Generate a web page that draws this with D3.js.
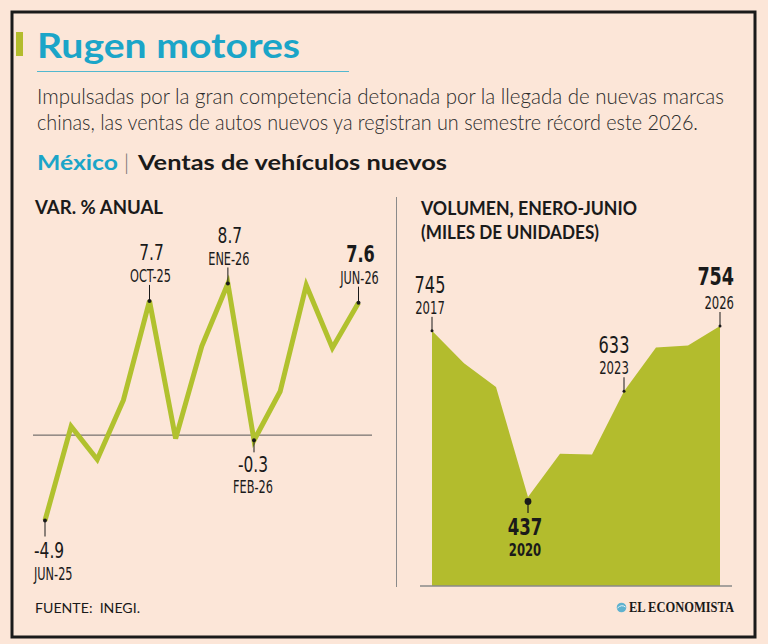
<!DOCTYPE html>
<html>
<head>
<meta charset="utf-8">
<script src="https://cdn.jsdelivr.net/npm/d3@7"></script>
<style>
html, body { margin: 0; padding: 0; background: #fce6d8; }
svg { display: block; }
text { white-space: pre; }
</style>
</head>
<body>
<svg class="chart"></svg>
<script>
// variacion % anual, ventas de vehiculos nuevos
var varMonths = ["JUN-25", "JUL-25", "AGO-25", "SEP-25", "OCT-25", "NOV-25", "DIC-25",
                 "ENE-26", "FEB-26", "MAR-26", "ABR-26", "MAY-26", "JUN-26"];
var varValues = [-4.9, 0.5, -1.4, 2.0, 7.7, -0.2, 5.1, 8.7, -0.3, 2.5, 8.6, 5.0, 7.6];
var varMarked = ["JUN-25", "OCT-25", "ENE-26", "FEB-26", "JUN-26"];

// volumen enero-junio, miles de unidades
var volYears = [2017, 2018, 2019, 2020, 2021, 2022, 2023, 2024, 2025, 2026];
var volValues = [745, 685, 641, 437, 517, 516, 633, 714, 718, 754];
var volMarked = [2017, 2020, 2023, 2026];

var NARROW = "'Liberation Sans Narrow','DejaVu Sans Condensed','Arial Narrow',sans-serif";
var SANS = "Lato,'Open Sans','Noto Sans',sans-serif";
var TEAL = "#1ba5c8", OLIVE = "#b3bc2d", LIME = "#b1c12e", INK = "#1a1a1a";

var width = 768, height = 644;

var svg = d3.select(".chart")
    .attr("width", width)
    .attr("height", height);

svg.append("rect").attr("width", width).attr("height", height).attr("fill", "#fce6d8");
svg.append("rect")
    .attr("x", 12).attr("y", 12).attr("width", 743).attr("height", 625)
    .attr("fill", "#fce6d8").attr("stroke", INK).attr("stroke-width", 3);

// squeeze text horizontally so it looks like the condensed face of the original
function fit(t, len) {
    t.attr("textLength", len).attr("lengthAdjust", "spacingAndGlyphs");
    return t;
}
function condense(t, k) {
    var w = t.node().getComputedTextLength();
    return fit(t, w * k);
}
function txt(g, x, y, str, size, weight, family, fill, anchor) {
    return g.append("text")
        .attr("x", x).attr("y", y)
        .attr("font-size", size)
        .attr("font-weight", weight)
        .attr("font-family", family)
        .attr("fill", fill || INK)
        .attr("text-anchor", anchor || "start")
        .text(str);
}

// ---- header
svg.append("rect").attr("x", 16).attr("y", 32).attr("width", 7).attr("height", 24).attr("fill", OLIVE);
fit(txt(svg, 37, 58, "Rugen motores", 34, 700, SANS, TEAL), 263);
svg.append("line").attr("x1", 37).attr("x2", 349).attr("y1", 71.5).attr("y2", 71.5)
    .attr("stroke", "#52b8cf").attr("stroke-width", 1);

fit(txt(svg, 37, 104, "Impulsadas por la gran competencia detonada por la llegada de nuevas marcas", 21, 300, SANS, "#2b2b2b"), 687);
fit(txt(svg, 37, 130, "chinas, las ventas de autos nuevos ya registran un semestre récord este 2026.", 21, 300, SANS, "#2b2b2b"), 661);

fit(txt(svg, 37, 170, "México", 21, 700, SANS, TEAL), 81);
txt(svg, 124, 170, "|", 21, 300, SANS, "#666");
fit(txt(svg, 138, 170, "Ventas de vehículos nuevos", 21, 700, SANS, INK), 309);

fit(txt(svg, 35, 214, "VAR. % ANUAL", 18, 700, SANS, INK), 128);
fit(txt(svg, 421, 215, "VOLUMEN, ENERO-JUNIO", 18, 700, SANS, INK), 216);
fit(txt(svg, 421, 239, "(MILES DE UNIDADES)", 18, 700, SANS, INK), 178);

svg.append("line").attr("x1", 396.5).attr("x2", 396.5).attr("y1", 197).attr("y2", 587)
    .attr("stroke", "#8a8a8a").attr("stroke-width", 1);

// ---- left: variacion anual
var xL = d3.scalePoint().domain(varMonths).range([45, 358.5]);
var yL = d3.scaleLinear().domain(d3.extent(varValues)).range([520.5, 283.5]);

var left = svg.append("g");
left.append("line")
    .attr("x1", 33).attr("x2", 372).attr("y1", yL(0)).attr("y2", yL(0))
    .attr("stroke", "#555").attr("stroke-width", 1);

var lineL = d3.line()
    .x(function(d, i) { return xL(varMonths[i]); })
    .y(function(d) { return yL(d); });

left.append("path")
    .datum(varValues)
    .attr("d", lineL)
    .attr("fill", "none")
    .attr("stroke", LIME)
    .attr("stroke-width", 5)
    .attr("stroke-linejoin", "miter");

varMarked.forEach(function(m) {
    var i = varMonths.indexOf(m), v = varValues[i];
    var x = xL(m), y = yL(v);
    var last = i === varMonths.length - 1, first = i === 0;
    var vs = v.toFixed(1);
    if (v < 0) {
        var ax = first ? x - 11 : x - 1, anc = first ? "start" : "middle";
        left.append("line").attr("x1", x).attr("x2", x).attr("y1", y).attr("y2", y + (first ? 16 : 12))
            .attr("stroke", INK).attr("stroke-width", 1);
        condense(txt(left, ax, y + (first ? 37 : 32), vs, 22, 400, NARROW, INK, anc), 0.78);
        condense(txt(left, ax, y + (first ? 59.5 : 53), m, 17, 400, NARROW, INK, anc), 0.74);
    } else {
        left.append("line").attr("x1", x).attr("x2", x).attr("y1", y).attr("y2", y - 16)
            .attr("stroke", INK).attr("stroke-width", 1);
        condense(txt(left, x + 2, y - 41, vs, last ? 23 : 22, last ? 700 : 400, NARROW, INK, "middle"), 0.78);
        condense(txt(left, x + 1, y - 19, m, 17, 400, NARROW, INK, "middle"), 0.74);
    }
    left.append("circle").attr("cx", x).attr("cy", y).attr("r", 2).attr("fill", INK);
});

// ---- right: volumen
var xR = d3.scalePoint().domain(volYears).range([432, 720]);
var yR = d3.scaleLinear().domain([272, d3.max(volValues)]).range([586, 326]);

var right = svg.append("g");
var areaR = d3.area()
    .x(function(d, i) { return xR(volYears[i]); })
    .y0(yR(272))
    .y1(function(d) { return yR(d); });

right.append("path")
    .datum(volValues)
    .attr("d", areaR)
    .attr("fill", OLIVE);

right.append("line")
    .attr("x1", 420).attr("x2", 732).attr("y1", yR(272)).attr("y2", yR(272))
    .attr("stroke", "#8a8a8a").attr("stroke-width", 1.5);

volMarked.forEach(function(yr) {
    var i = volYears.indexOf(yr), v = volValues[i];
    var x = xR(yr), y = yR(v);
    var isMin = v === d3.min(volValues), isMax = v === d3.max(volValues);
    if (isMin) {
        right.append("line").attr("x1", x).attr("x2", x).attr("y1", y + 4).attr("y2", y + 16)
            .attr("stroke", INK).attr("stroke-width", 1.2);
        right.append("circle").attr("cx", x).attr("cy", y + 4.5).attr("r", 3.4).attr("fill", INK);
        condense(txt(right, x - 3, y + 38, String(v), 23, 700, NARROW, INK, "middle"), 0.8);
        condense(txt(right, x - 3, y + 59, String(yr), 17, 700, NARROW, INK, "middle"), 0.76);
    } else {
        var ax = isMax ? x + 14 : (i === 0 ? x - 2 : x - 10);
        var anc = isMax ? "end" : "middle";
        right.append("line").attr("x1", x).attr("x2", x).attr("y1", y).attr("y2", y - 14)
            .attr("stroke", INK).attr("stroke-width", 1);
        right.append("circle").attr("cx", x).attr("cy", y).attr("r", 1.5).attr("fill", INK);
        condense(txt(right, ax, y - (isMax ? 41 : 38), String(v), isMax ? 25 : 23, isMax ? 700 : 400, NARROW, INK, anc), 0.78);
        condense(txt(right, ax, y - 17, String(yr), 17, 400, NARROW, INK, anc), 0.76);
    }
});

// ---- footer
fit(txt(svg, 35, 613, "FUENTE:  INEGI.", 14, 400, SANS, INK), 105);
svg.append("circle").attr("cx", 621.5).attr("cy", 607.5).attr("r", 4.8).attr("fill", "#5fb2cf");
svg.append("path").attr("d", "M617.5,608 Q621.5,604 625.5,607").attr("stroke", "#e6f3f8").attr("stroke-width", 1).attr("fill", "none");
fit(txt(svg, 629, 612, "EL ECONOMISTA", 14, 700, "'Liberation Serif','DejaVu Serif',serif", INK), 105);
</script>
</body>
</html>
